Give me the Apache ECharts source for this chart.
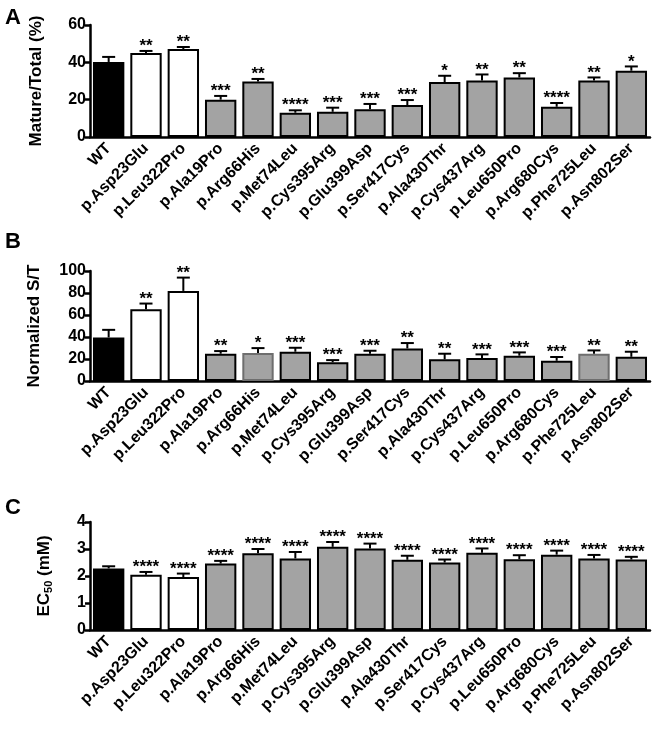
<!DOCTYPE html>
<html><head><meta charset="utf-8">
<script src="https://cdn.jsdelivr.net/npm/echarts@6/dist/echarts.min.js"></script>
<style>html,body{margin:0;padding:0;background:#fff}#c{width:660px;height:729px}</style>
</head><body><div id="c"></div>
<script>
// ---- data ----
const catsAB = ['WT','p.Asp23Glu','p.Leu322Pro','p.Ala19Pro','p.Arg66His','p.Met74Leu','p.Cys395Arg','p.Glu399Asp','p.Ser417Cys','p.Ala430Thr','p.Cys437Arg','p.Leu650Pro','p.Arg680Cys','p.Phe725Leu','p.Asn802Ser'];
const catsC = ['WT','p.Asp23Glu','p.Leu322Pro','p.Ala19Pro','p.Arg66His','p.Met74Leu','p.Cys395Arg','p.Glu399Asp','p.Ala430Thr','p.Ser417Cys','p.Cys437Arg','p.Leu650Pro','p.Arg680Cys','p.Phe725Leu','p.Asn802Ser'];

const matureVals = [40.2, 45.0, 47.1, 20.0, 29.7, 13.0, 13.5, 14.8, 17.1, 29.4, 30.3, 31.9, 16.2, 30.3, 35.5];
const matureErr  = [2.7, 1.1, 1.1, 2.0, 1.4, 1.3, 2.2, 2.9, 2.7, 3.4, 3.2, 2.3, 2.0, 1.6, 2.3];
const matureSig  = ['', '**', '**', '***', '**', '****', '***', '***', '***', '*', '**', '**', '****', '**', '*'];

const stVals = [39.6, 65.3, 81.9, 24.8, 25.4, 26.6, 17.0, 24.8, 29.6, 19.7, 20.9, 23.0, 18.4, 24.8, 22.0];
const stErr  = [6.9, 5.1, 12.1, 2.4, 4.5, 3.6, 2.0, 2.7, 4.9, 5.1, 3.3, 3.0, 3.4, 3.0, 4.6];
const stSig  = ['', '**', '**', '**', '*', '***', '***', '***', '**', '**', '***', '***', '***', '**', '**'];

const ecVals = [2.28, 2.05, 1.96, 2.46, 2.84, 2.65, 3.08, 3.02, 2.60, 2.50, 2.86, 2.62, 2.79, 2.65, 2.61];
const ecErr  = [0.08, 0.10, 0.13, 0.10, 0.16, 0.24, 0.18, 0.18, 0.15, 0.11, 0.16, 0.15, 0.15, 0.13, 0.10];
const ecSig  = ['', '****', '****', '****', '****', '****', '****', '****', '****', '****', '****', '****', '****', '****', '****'];

const yTicksA = {min: 0, max: 60, interval: 20};
const yTicksB = {min: 0, max: 100, interval: 20};
const yTicksC = {min: 0, max: 4, interval: 1};

// ---- styles ----
const FONT = '"Liberation Sans", Arial, sans-serif';
const GRAY = '#a3a3a3';
function fillFor(i){ return i === 0 ? '#000000' : (i < 3 ? '#ffffff' : GRAY); }
const grayBorderB = {4: true, 13: true};

const grids = [
  {left: 90, width: 560, top: 25, height: 112},
  {left: 90, width: 560, top: 271, height: 110},
  {left: 90, width: 560, top: 522, height: 108}
];

function xAxisFor(idx, cats){
  return {
    type: 'category', gridIndex: idx, data: cats,
    axisLine: {lineStyle: {color: '#000', width: 2.5}},
    axisTick: {alignWithLabel: true, length: 6, lineStyle: {color: '#000', width: 2.5}},
    axisLabel: {rotate: 45, interval: 0, fontWeight: 'bold', fontSize: 16, color: '#000', fontFamily: FONT, margin: 9}
  };
}
function yAxisFor(idx, ticks, name, gap){
  return {
    type: 'value', gridIndex: idx, min: ticks.min, max: ticks.max, interval: ticks.interval,
    axisLine: {show: true, lineStyle: {color: '#000', width: 2.5}},
    axisTick: {show: true, length: 5, lineStyle: {color: '#000', width: 2.5}},
    axisLabel: {fontWeight: 'bold', fontSize: 16, color: '#000', fontFamily: FONT, margin: 4},
    splitLine: {show: false},
    name: name, nameLocation: 'middle', nameGap: gap,
    nameTextStyle: {fontWeight: 'bold', fontSize: 17, color: '#000', fontFamily: FONT,
      rich: {
        n: {fontWeight: 'bold', fontSize: 17, color: '#000', fontFamily: FONT},
        s: {fontWeight: 'bold', fontSize: 11, color: '#000', fontFamily: FONT, padding: [8, 0, 0, 0]}
      }}
  };
}
function barSeries(idx, vals, grayBorder){
  return {
    type: 'bar', xAxisIndex: idx, yAxisIndex: idx, barWidth: '84%',
    data: vals.map((v, i) => ({value: v, itemStyle: {
      color: fillFor(i),
      borderColor: (grayBorder && grayBorder[i]) ? '#6e6e6e' : '#000',
      borderWidth: 2
    }})),
    z: 2
  };
}
function errSeries(idx, vals, errs, sigs){
  return {
    type: 'custom', xAxisIndex: idx, yAxisIndex: idx, z: 5,
    data: vals.map((v, i) => [i, v, v + errs[i]]),
    renderItem: function(params, api){
      const i = api.value(0);
      const p0 = api.coord([i, api.value(1)]);
      const p1 = api.coord([i, api.value(2)]);
      const x = p0[0];
      const st = {stroke: '#000', lineWidth: 2};
      const children = [
        {type: 'line', shape: {x1: x, y1: p0[1], x2: x, y2: p1[1]}, style: st},
        {type: 'line', shape: {x1: x - 6.5, y1: p1[1], x2: x + 6.5, y2: p1[1]}, style: st}
      ];
      const s = sigs[params.dataIndex];
      if (s) {
        children.push({type: 'text', style: {text: s, x: x, y: p1[1] + 4, align: 'center', verticalAlign: 'bottom',
          font: 'bold 17px ' + FONT, fill: '#000'}});
      }
      return {type: 'group', children: children};
    }
  };
}

const chart = echarts.init(document.getElementById('c'), null, {renderer: 'canvas'});
chart.setOption({
  animation: false,
  backgroundColor: '#fff',
  grid: grids,
  title: [
    {text: 'A', left: 0, top: 2, textStyle: {fontSize: 22, fontWeight: 'bold', fontFamily: FONT, color: '#000'}},
    {text: 'B', left: 0, top: 226, textStyle: {fontSize: 22, fontWeight: 'bold', fontFamily: FONT, color: '#000'}},
    {text: 'C', left: 0, top: 492, textStyle: {fontSize: 22, fontWeight: 'bold', fontFamily: FONT, color: '#000'}}
  ],
  xAxis: [xAxisFor(0, catsAB), xAxisFor(1, catsAB), xAxisFor(2, catsC)],
  yAxis: [
    yAxisFor(0, yTicksA, 'Mature/Total (%)', 45),
    yAxisFor(1, yTicksB, 'Normalized S/T', 47),
    yAxisFor(2, yTicksC, '{n|EC}{s|50}{n| (mM)}', 36)
  ],
  series: [
    barSeries(0, matureVals), errSeries(0, matureVals, matureErr, matureSig),
    barSeries(1, stVals, grayBorderB), errSeries(1, stVals, stErr, stSig),
    barSeries(2, ecVals), errSeries(2, ecVals, ecErr, ecSig)
  ]
});
</script>
</body></html>
